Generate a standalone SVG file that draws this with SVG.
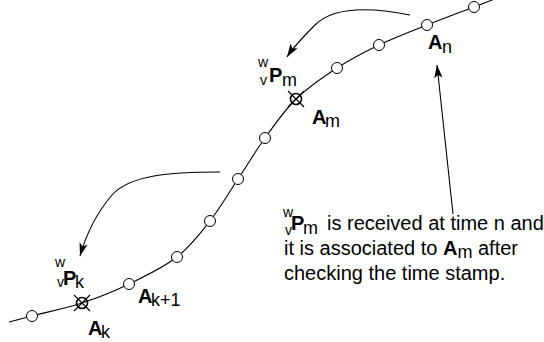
<svg xmlns="http://www.w3.org/2000/svg" width="544" height="342" viewBox="0 0 544 342">
<style>
.ln{fill:none;stroke:#000;stroke-width:1.1}
.pt{fill:#fff;stroke:#000;stroke-width:1}
.px{fill:none;stroke:#000;stroke-width:1.6}
.t{font-family:"Liberation Sans",Arial,sans-serif;font-size:20px;fill:#000}
.b{font-weight:bold}
.s{font-size:18px}
.sm{font-size:14px}
</style>
<defs>
<marker id="ah" markerUnits="userSpaceOnUse" markerWidth="16" markerHeight="12" viewBox="-14 -6 16 12" refX="0" refY="0" orient="auto">
<path d="M0,0 L-13,-4.2 L-10,0 L-13,4.2 Z" fill="#000"/>
</marker>
</defs>
<rect width="544" height="342" fill="#fff"/>
<g id="trajectory">
<path class="ln" d="M9,322 C16.7,320 19.8,319.2 32,316 C44.2,312.8 65.8,308.3 82,303 C98.2,297.7 113.2,291.7 129,284 C144.8,276.3 163.5,267.5 177,257 C190.5,246.5 199.8,234 210,221 C220.2,208 228.8,192.8 238,179 C247.2,165.2 255.3,151.3 265,138 C274.7,124.7 284,110.7 296,99 C308,87.3 323.2,77 337,68 C350.8,59 364,52.2 379,45 C394,37.8 411.2,31.3 427,25 C442.8,18.7 461.8,11.7 474,7 C486.2,2.3 491.3,0.3 500,-3"/>
</g>
<g id="points">
<circle class="pt" cx="32" cy="316" r="5.5"/>
<circle class="pt" cx="129" cy="284" r="5.5"/>
<circle class="pt" cx="177" cy="257" r="5.5"/>
<circle class="pt" cx="210" cy="221" r="5.5"/>
<circle class="pt" cx="238" cy="179" r="5.5"/>
<circle class="pt" cx="265" cy="138" r="5.5"/>
<circle class="pt" cx="337" cy="68" r="5.5"/>
<circle class="pt" cx="379" cy="45" r="5.5"/>
<circle class="pt" cx="427" cy="25" r="5.5"/>
<circle class="pt" cx="474" cy="7" r="5.5"/>
</g>
<g id="node-Am">
<circle class="px" cx="296" cy="99" r="5.5" fill="#fff"/>
<path class="ln" d="M288,91 L304,107 M304,91 L288,107"/>
<text class="t b" x="312" y="124">A</text><text class="t s" x="325" y="127">m</text>
</g>
<g id="node-Ak">
<circle class="px" cx="82" cy="303" r="5.5" fill="#fff"/>
<path class="ln" d="M74,295 L90,311 M90,295 L74,311"/>
<text class="t b" x="88" y="335">A</text><text class="t s" x="101" y="338">k</text>
</g>
<g id="node-An">
<text class="t b" x="428" y="49">A</text><text class="t s" x="442" y="53">n</text>
</g>
<g id="node-Ak1">
<text class="t b" x="138" y="303">A</text><text class="t s" x="151" y="306">k+1</text>
</g>
<g id="label-Pm">
<text class="t sm" x="258" y="67">w</text>
<text class="t sm" x="260" y="85">v</text>
<text class="t b" x="269" y="82">P</text>
<text class="t s" x="282" y="86">m</text>
</g>
<g id="label-Pk">
<text class="t sm" x="55" y="267">w</text>
<text class="t sm" x="57" y="287">v</text>
<text class="t b" x="63" y="285">P</text>
<text class="t s" x="75" y="288">k</text>
</g>
<g id="note">
<text class="t sm" x="283" y="217">w</text>
<text class="t sm" x="285" y="235">v</text>
<text class="t b" x="291" y="230">P</text>
<text class="t s" x="303" y="234">m</text>
<text class="t" x="327" y="230">is received at time n and</text>
<text class="t" x="284" y="255">it is associated to <tspan class="b">A</tspan><tspan class="s" dy="3">m</tspan><tspan dy="-3"> after</tspan></text>
<text class="t" x="284" y="280">checking the time stamp.</text>
</g>
<g id="connectors">
<path class="ln" d="M410,15 C375,8 335,5 315,25 C303,37 294,46 287,57" marker-end="url(#ah)"/>
<path class="ln" d="M220,172 C170,172 130,175 112,195 C95,215 86,235 80,256" marker-end="url(#ah)"/>
<path class="ln" d="M453,214 L437,65" marker-end="url(#ah)"/>
</g>
</svg>
